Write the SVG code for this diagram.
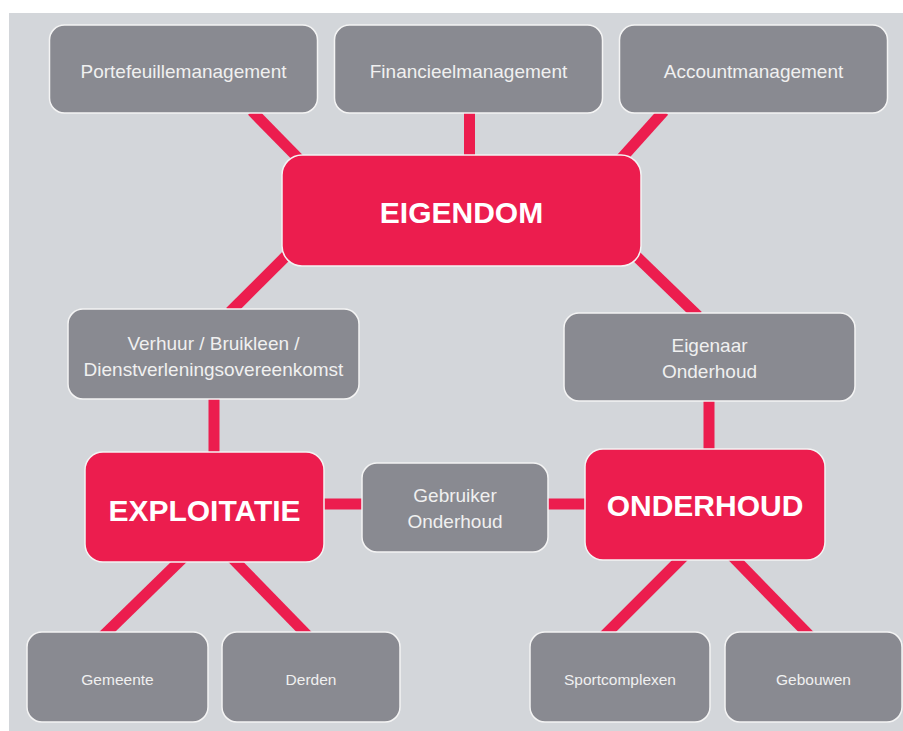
<svg xmlns="http://www.w3.org/2000/svg" width="903" height="731" viewBox="0 0 903 731">
<style>
.g{fill:#898a91;stroke:#f4f4f4;stroke-width:1.5}
.r{fill:#ec1d4e;stroke:#f4f4f4;stroke-width:1.5}
.t{font-family:"Liberation Sans",Arial,sans-serif;fill:#f0f0f0;text-anchor:middle}
.m{font-size:19px}
.s{font-size:15.5px}
.b{font-family:"Liberation Sans",Arial,sans-serif;fill:#ffffff;font-weight:bold;text-anchor:middle;font-size:30px}
#connectors line{stroke:#ec1d4e;stroke-width:11}
</style>
<rect x="0" y="0" width="903" height="731" fill="#ffffff"/>
<rect x="9" y="13" width="894" height="718" fill="#d3d6da"/>
<g id="connectors">
<line x1="252" y1="111" x2="300" y2="160"/>
<line x1="469.5" y1="111" x2="469.5" y2="158"/>
<line x1="664" y1="111" x2="620" y2="160"/>
<line x1="286" y1="256" x2="230" y2="312"/>
<line x1="636" y1="256" x2="698" y2="316"/>
<line x1="214" y1="397" x2="214" y2="455"/>
<line x1="322" y1="504" x2="364" y2="504"/>
<line x1="546" y1="504" x2="587" y2="504"/>
<line x1="709" y1="399" x2="709" y2="452"/>
<line x1="185" y1="556" x2="103" y2="636"/>
<line x1="230" y1="556" x2="308" y2="636"/>
<line x1="684" y1="556" x2="604" y2="636"/>
<line x1="732" y1="556" x2="810" y2="636"/>
</g>
<g id="portefeuille"><rect class="g" x="49.5" y="25" width="268" height="88" rx="15"/><text class="t m" x="183.5" y="78">Portefeuillemanagement</text></g>
<g id="financieel"><rect class="g" x="334.5" y="25" width="268" height="88" rx="15"/><text class="t m" x="468.5" y="78">Financieelmanagement</text></g>
<g id="account"><rect class="g" x="619.5" y="25" width="268" height="88" rx="15"/><text class="t m" x="753.5" y="78">Accountmanagement</text></g>
<g id="eigendom"><rect class="r" x="282" y="155" width="359" height="111" rx="20"/><text class="b" x="461.5" y="223">EIGENDOM</text></g>
<g id="verhuur"><rect class="g" x="68" y="309" width="291" height="90" rx="15"/><text class="t m" x="213.5" y="350">Verhuur / Bruikleen /</text><text class="t m" x="213.5" y="376">Dienstverleningsovereenkomst</text></g>
<g id="eigenaar"><rect class="g" x="564" y="313" width="291" height="88" rx="15"/><text class="t m" x="709.5" y="352">Eigenaar</text><text class="t m" x="709.5" y="378">Onderhoud</text></g>
<g id="exploitatie"><rect class="r" x="85" y="452" width="239" height="110" rx="18"/><text class="b" x="204.5" y="521">EXPLOITATIE</text></g>
<g id="gebruiker"><rect class="g" x="362" y="463" width="186" height="89" rx="15"/><text class="t m" x="455" y="502">Gebruiker</text><text class="t m" x="455" y="528">Onderhoud</text></g>
<g id="onderhoud"><rect class="r" x="585" y="449" width="240" height="111" rx="18"/><text class="b" x="705" y="516">ONDERHOUD</text></g>
<g id="gemeente"><rect class="g" x="27" y="632" width="181" height="90" rx="15"/><text class="t s" x="117.5" y="685">Gemeente</text></g>
<g id="derden"><rect class="g" x="222" y="632" width="178" height="90" rx="15"/><text class="t s" x="311" y="685">Derden</text></g>
<g id="sportcomplexen"><rect class="g" x="530" y="632" width="180" height="90" rx="15"/><text class="t s" x="620" y="685">Sportcomplexen</text></g>
<g id="gebouwen"><rect class="g" x="725" y="632" width="177" height="90" rx="15"/><text class="t s" x="813.5" y="685">Gebouwen</text></g>
</svg>
